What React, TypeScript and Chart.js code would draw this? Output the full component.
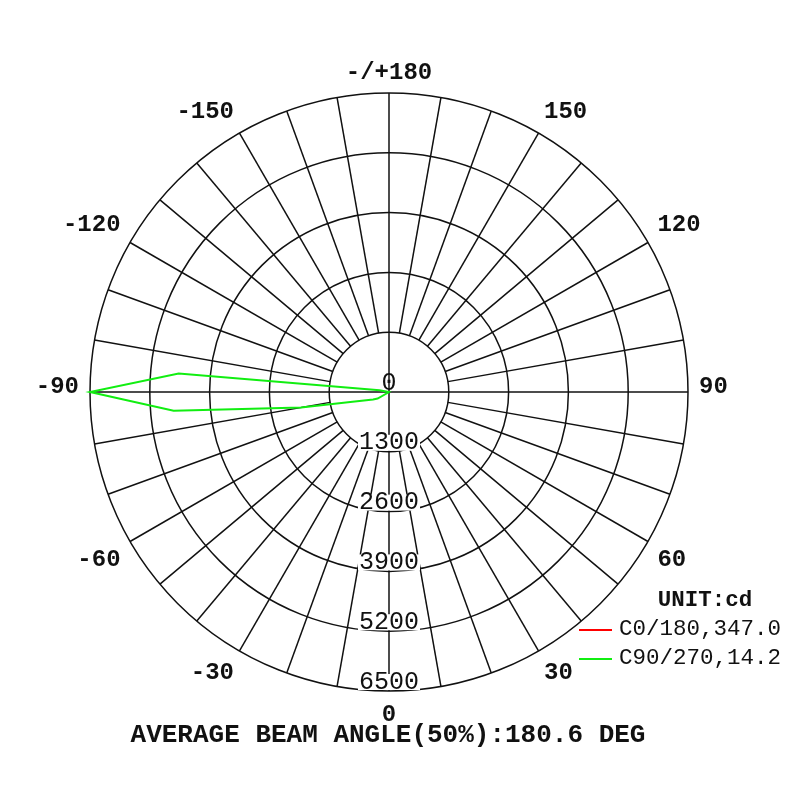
import React, { useEffect, useRef } from "react";
import { Chart, registerables } from "chart.js";

Chart.register(...registerables);

// gamma angle of each radial category (0 at bottom, +90 right, -90 left, 180 top)
const gammaLabels = [
  180, 175, 170, 165, 160, 155, 150, 145, 140, 135, 130, 125, 120, 115, 110, 105, 100, 95,
  90, 85, 80, 75, 70, 65, 60, 55, 50, 45, 40, 35, 30, 25, 20, 15, 10, 5, 0,
  -5, -10, -15, -20, -25, -30, -35, -40, -45, -50, -55, -60, -65, -70, -75, -80, -85,
  -90, -95, -100, -105, -110, -115, -120, -125, -130, -135, -140, -145, -150, -155, -160,
  -165, -170, -175,
];

// C0/180 curve (not visible in the reference)
const c0Values = [
  0, 0, 0, 0, 0, 0, 0, 0, 0, 0, 0, 0, 0, 0, 0, 0, 0, 0,
  0, 0, 0, 0, 0, 0, 0, 0, 0, 0, 0, 0, 0, 0, 0, 0, 0, 0, 0,
  0, 0, 0, 0, 0, 0, 0, 0, 0, 0, 0, 0, 0, 0, 0, 0, 0,
  0, 0, 0, 0, 0, 0, 0, 0, 0, 0, 0, 0, 0, 0, 0,
  0, 0, 0,
];

// C90/270 curve
const c90Values = [
  0, 0, 0, 0, 0, 0, 0, 0, 0, 0, 0, 0, 0, 0, 0, 0, 0, 0,
  0, 0, 0, 0, 0, 0, 0, 0, 0, 0, 0, 0, 0, 0, 0, 0, 0, 0, 0,
  0, 0, 0, 0, 0, 0, 0, 0, 0, 0, 20, 285, 382, 527, 820, 1940, 4700,
  6500, 4590, 210, 0, 0, 0, 0, 0, 0, 0, 0, 0, 0, 0, 0,
  0, 0, 0,
];

const seriesNames = ["C0/180,347.0", "C90/270,14.2"];
const seriesColors = ["#ff0000", "#11ee11"];

const ringTicks = [0, 1300, 2600, 3900, 5200, 6500];
const angleTickValues = [180, 150, 120, 90, 60, 30, 0, -30, -60, -90, -120, -150];
const angleTickLabels = ["-/+180", "150", "120", "90", "60", "30", "0", "-30", "-60", "-90", "-120", "-150"];

const unitText = "UNIT:cd";
const titleText = "AVERAGE BEAM ANGLE(50%):180.6 DEG";

const GRID = "#111";

const polarDecor = {
  id: "polarDecor",
  beforeDatasetsDraw(chart: any) {
    const s = chart.scales.r;
    const ctx = chart.ctx;
    const inner = s.getDistanceFromCenterForValue(ringTicks[1]);
    const outer = s.getDistanceFromCenterForValue(ringTicks[ringTicks.length - 1]);
    ctx.save();
    ctx.strokeStyle = GRID;
    ctx.lineWidth = 1.5;
    gammaLabels.forEach((g, i) => {
      if (g % 10 !== 0) return;
      const start = g % 90 === 0 ? 0 : inner;
      const p0 = s.getPointPosition(i, start);
      const p1 = s.getPointPosition(i, outer);
      ctx.beginPath();
      ctx.moveTo(p0.x, p0.y);
      ctx.lineTo(p1.x, p1.y);
      ctx.stroke();
    });
    ctx.restore();
  },
  afterDatasetsDraw(chart: any) {
    const s = chart.scales.r;
    const ctx = chart.ctx;
    const outer = s.getDistanceFromCenterForValue(ringTicks[ringTicks.length - 1]);
    ctx.save();
    ctx.fillStyle = "#111";
    ctx.textAlign = "center";
    ctx.textBaseline = "middle";

    // ring value labels along the downward axis
    ctx.font = '25px "Liberation Mono"';
    ringTicks.forEach((v, k) => {
      const r = s.getDistanceFromCenterForValue(v);
      const x = s.xCenter;
      const y = s.yCenter + r - 9;
      const txt = String(v);
      const w = ctx.measureText(txt).width;
      if (k > 0) {
        ctx.fillStyle = "#fff";
        ctx.fillRect(x - w / 2 - 1, y - 8, w + 2, 16);
      }
      ctx.fillStyle = "#111";
      ctx.fillText(txt, x, y);
    });

    // angle labels around the circle: the corner nearest the centre sits on the anchor
    ctx.font = 'bold 24px "Liberation Mono"';
    ctx.textBaseline = "alphabetic";
    const capH = 16;
    angleTickValues.forEach((g, k) => {
      const idx = gammaLabels.indexOf(g);
      const txt = angleTickLabels[k];
      const th = s.getIndexAngle(idx);
      const sn = Math.sin(th);
      const cs = Math.cos(th);
      const p = s.getPointPosition(idx, outer + 11);
      ctx.textAlign = sn > 0.01 ? "left" : sn < -0.01 ? "right" : "center";
      let y: number;
      if (Math.abs(cs) < 0.01) y = p.y + 1;
      else if (cs > 0) y = Math.abs(sn) < 0.01 ? p.y - 3 : p.y - 6;
      else y = p.y + 3 + capH;
      ctx.fillText(txt, p.x, y);
    });

    // legend
    ctx.textBaseline = "middle";
    ctx.textAlign = "center";
    ctx.font = 'bold 22.5px "Liberation Mono"';
    ctx.fillText(unitText, 705, 600);
    ctx.textAlign = "left";
    ctx.font = '22.5px "Liberation Mono"';
    chart.data.datasets.forEach((ds: any, k: number) => {
      const y = 630 + k * 29;
      ctx.strokeStyle = ds.borderColor;
      ctx.lineWidth = 2;
      ctx.beginPath();
      ctx.moveTo(579, y);
      ctx.lineTo(612, y);
      ctx.stroke();
      ctx.fillStyle = "#111";
      ctx.fillText(ds.label, 619, y - 1);
    });

    // title
    ctx.textAlign = "center";
    ctx.font = 'bold 26px "Liberation Mono"';
    ctx.fillText(titleText, 388, 735);
    ctx.restore();
  },
};

export default function App() {
  const ref = useRef<HTMLCanvasElement | null>(null);
  useEffect(() => {
    if (!ref.current) return;
    const chart = new Chart(ref.current, {
      type: "radar",
      data: {
        labels: gammaLabels.map(String),
        datasets: [
          {
            label: seriesNames[0],
            data: c0Values,
            borderColor: seriesColors[0],
            backgroundColor: "transparent",
            borderWidth: 2,
            pointRadius: 0,
            fill: false,
          },
          {
            label: seriesNames[1],
            data: c90Values,
            borderColor: seriesColors[1],
            backgroundColor: "transparent",
            borderWidth: 2,
            pointRadius: 0,
            fill: false,
          },
        ],
      },
      options: {
        responsive: false,
        animation: false,
        layout: { padding: { left: 90, right: 112, top: 93, bottom: 109 } },
        elements: { line: { tension: 0 } },
        plugins: {
          legend: { display: false },
          tooltip: { enabled: false },
          title: { display: false },
        },
        scales: {
          r: {
            min: 0,
            max: 6500,
            startAngle: 0,
            ticks: { display: false, stepSize: 1300 },
            grid: { circular: true, color: GRID, lineWidth: 1.5 },
            angleLines: { display: false },
            pointLabels: { display: false },
          },
        },
      },
      plugins: [polarDecor],
    });
    return () => chart.destroy();
  }, []);
  return (
    <div style={{ position: "absolute", left: 0, top: 0, width: 800, height: 800, background: "#fff" }}>
      <canvas ref={ref} width={800} height={800} style={{ display: "block" }} />
    </div>
  );
}
